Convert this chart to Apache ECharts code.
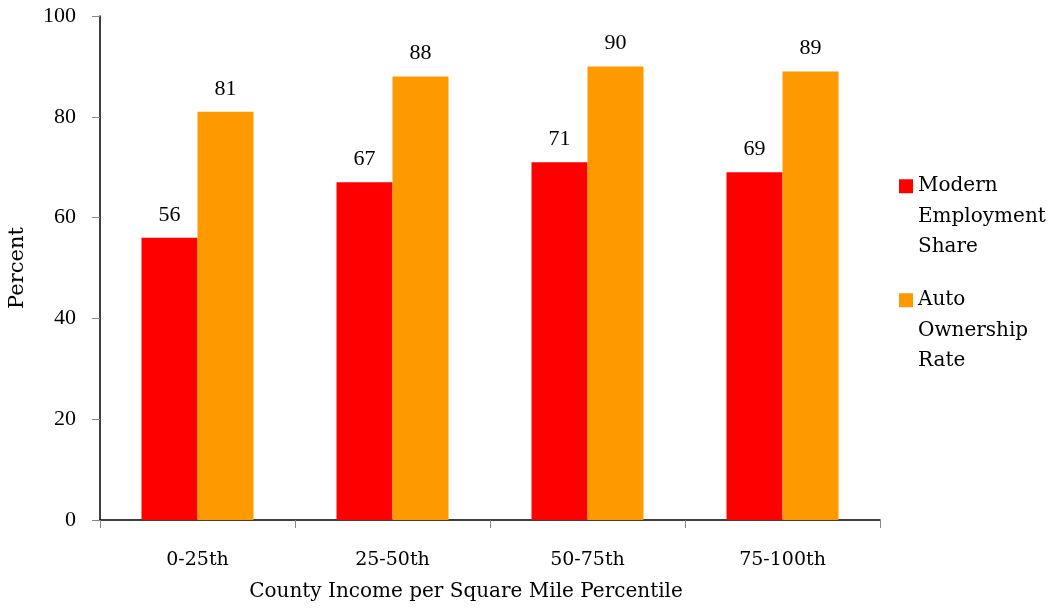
<!DOCTYPE html>
<html>
<head>
<meta charset="utf-8">
<script src="https://cdn.jsdelivr.net/npm/echarts@6/dist/echarts.min.js"></script>
<style>
  html, body { margin: 0; padding: 0; background: #fff; }
  #chart { width: 1054px; height: 609px; }
</style>
</head>
<body>
<div id="chart"></div>
<script>
// Income-density percentile groups
const categories = ['0-25th', '25-50th', '50-75th', '75-100th'];
const modernEmployment = [56, 67, 71, 69];
const autoOwnership = [81, 88, 90, 89];
const yTicks = [0, 20, 40, 60, 80, 100];

const WORD_FONT = 'DejaVu Serif';
const NUM_FONT = 'Liberation Serif';
const SERIES_NAMES = ['Modern Employment Share', 'Auto Ownership Rate'];
// two blank lines on top keep the legend square level with the first text line
const legendText = {
  'Modern Employment Share': '\n\nModern\nEmployment\nShare',
  'Auto Ownership Rate': '\n\nAuto\nOwnership\nRate'
};

function legendFor(name, top) {
  return {
    orient: 'vertical',
    left: 899,
    top: top,
    padding: 0,
    icon: 'rect',
    itemWidth: 14,
    itemHeight: 14,
    itemGap: 6,
    align: 'left',
    selectedMode: false,
    formatter: n => legendText[n],
    textStyle: { fontFamily: WORD_FONT, fontSize: 20, lineHeight: 30.5, color: '#000' },
    data: [name]
  };
}

const chart = echarts.init(document.getElementById('chart'));
chart.setOption({
  animation: false,
  textStyle: { fontFamily: WORD_FONT, color: '#000' },
  grid: { left: 100, right: 174, top: 16, bottom: 89, containLabel: false, outerBoundsMode: 'none' },
  legend: [legendFor(SERIES_NAMES[0], 110), legendFor(SERIES_NAMES[1], 224)],
  xAxis: {
    type: 'category',
    data: categories,
    name: 'County Income per Square Mile Percentile',
    nameLocation: 'middle',
    nameGap: 62,
    nameTextStyle: { fontFamily: WORD_FONT, fontSize: 20, color: '#000', padding: [0, 48, 0, 0] },
    axisLine: { lineStyle: { color: '#000', width: 1.5 } },
    axisTick: { show: true, length: 8, lineStyle: { color: '#888' } },
    axisLabel: { fontFamily: WORD_FONT, fontSize: 19, color: '#000', margin: 31 },
    splitLine: { show: false }
  },
  yAxis: {
    type: 'value',
    min: yTicks[0],
    max: yTicks[yTicks.length - 1],
    interval: yTicks[1] - yTicks[0],
    name: 'Percent',
    nameLocation: 'middle',
    nameGap: 72,
    nameTextStyle: { fontFamily: WORD_FONT, fontSize: 21, color: '#000' },
    axisLine: { show: true, lineStyle: { color: '#000', width: 1.5 } },
    axisTick: { show: true, length: 8, lineStyle: { color: '#888' } },
    axisLabel: { fontFamily: NUM_FONT, fontSize: 22, color: '#000', margin: 24 },
    splitLine: { show: false }
  },
  series: [
    {
      name: SERIES_NAMES[0],
      type: 'bar',
      data: modernEmployment,
      barWidth: 56,
      barGap: '0%',
      itemStyle: { color: '#FF0000' },
      label: { show: true, position: 'top', distance: 12, fontFamily: NUM_FONT, fontSize: 22, color: '#000' }
    },
    {
      name: SERIES_NAMES[1],
      type: 'bar',
      data: autoOwnership,
      barWidth: 56,
      barGap: '0%',
      itemStyle: { color: '#FF9900' },
      label: { show: true, position: 'top', distance: 12, fontFamily: NUM_FONT, fontSize: 22, color: '#000' }
    }
  ]
});
</script>
</body>
</html>
